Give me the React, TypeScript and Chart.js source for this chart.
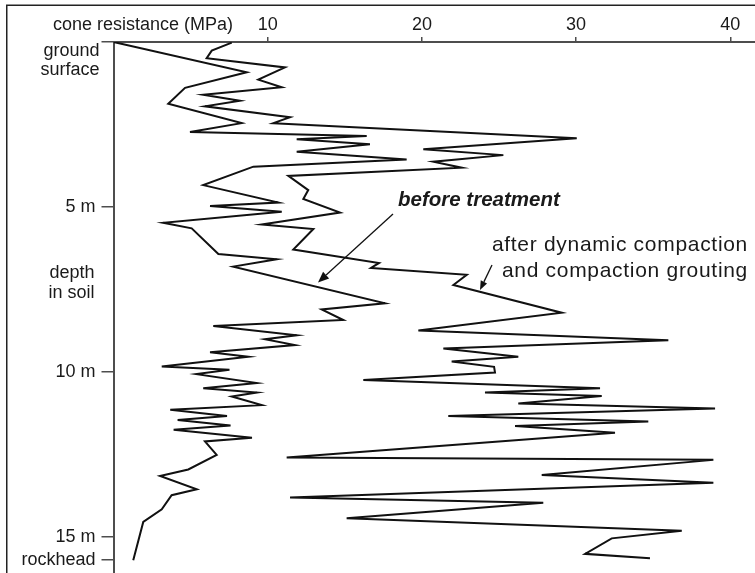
import React, { useEffect, useRef } from 'react';
import { Chart, registerables } from 'chart.js';

Chart.register(...registerables);

// cone resistance axis (MPa), top
const xTickValues = [10, 20, 30, 40];
// depth axis (m), left, downward
const depthTickValues = [0, 5, 10, 15, 15.7];
const depthTickLabels = ['', '5 m', '10 m', '15 m', 'rockhead'];

// before treatment
const beforeMPa = [
  0, 8.64, 4.64, 3.55, 8.31, 4.96, 16.42, 11.88, 16.63, 11.88,
  19.01, 9.07, 5.82, 10.69, 6.26, 10.91, 3.23, 5.07, 6.8, 10.58,
  7.77, 17.61, 13.5, 14.9, 6.47, 11.88, 9.82, 11.77, 6.26, 8.74,
  3.13, 7.52, 5.38, 9.29, 5.82, 9.29, 7.67, 9.61, 3.68, 7.36,
  4.16, 7.59, 3.9, 8.98, 5.93, 6.69, 4.85, 3.02, 5.4, 3.77,
  3.13, 1.93, 1.28,
];
const beforeDepth = [
  0, 0.92, 1.39, 1.87, 2.46, 2.73, 2.85, 2.95, 3.1, 3.33,
  3.56, 3.78, 4.34, 4.87, 4.97, 5.15, 5.48, 5.65, 6.43, 6.59,
  6.81, 7.92, 8.11, 8.43, 8.61, 8.89, 9.01, 9.19, 9.41, 9.54,
  9.84, 9.94, 10.07, 10.34, 10.5, 10.63, 10.75, 11.01, 11.15, 11.34,
  11.46, 11.63, 11.76, 12.0, 12.11, 12.52, 12.96, 13.16, 13.56, 13.74,
  14.17, 14.55, 15.71,
];

// after dynamic compaction and compaction grouting
const afterMPa = [
  7.67, 6.37, 6.04, 11.12, 9.39, 10.91, 5.82, 8.2, 5.93, 11.45,
  10.36, 30.04, 20.09, 25.28, 20.74, 22.58, 11.34, 12.63, 12.31, 14.69,
  9.61, 12.96, 11.66, 17.22, 16.7, 22.91, 22.04, 29.07, 19.77, 35.98,
  21.39, 26.25, 21.93, 24.68, 24.74, 16.2, 31.55, 24.09, 31.66, 26.25,
  39.01, 21.71, 34.68, 26.04, 32.52, 11.23, 38.9, 27.77, 38.9, 11.45,
  27.87, 15.12, 36.85, 32.31, 30.58, 34.79,
];
const afterDepth = [
  0.02, 0.26, 0.49, 0.77, 1.14, 1.37, 1.6, 1.78, 1.95, 2.28,
  2.46, 2.92, 3.25, 3.43, 3.63, 3.81, 4.06, 4.49, 4.76, 5.17,
  5.53, 5.67, 6.29, 6.7, 6.85, 7.06, 7.37, 8.21, 8.75, 9.04,
  9.29, 9.54, 9.69, 9.85, 10.02, 10.25, 10.5, 10.63, 10.73, 10.96,
  11.11, 11.34, 11.51, 11.64, 11.85, 12.6, 12.67, 13.13, 13.36, 13.81,
  13.97, 14.44, 14.82, 15.05, 15.52, 15.65,
];

const FONT = '"Liberation Sans", Arial, Helvetica, sans-serif';
const TEXT = '#1a1a1a';
const AXIS = '#4d4d4d';

function arrow(ctx: CanvasRenderingContext2D, x1: number, y1: number, x2: number, y2: number, len: number, half: number) {
  const a = Math.atan2(y2 - y1, x2 - x1);
  const bx = x2 - len * Math.cos(a);
  const by = y2 - len * Math.sin(a);
  ctx.beginPath();
  ctx.moveTo(x1, y1);
  ctx.lineTo(bx, by);
  ctx.stroke();
  ctx.beginPath();
  ctx.moveTo(x2, y2);
  ctx.lineTo(bx + half * Math.sin(a), by - half * Math.cos(a));
  ctx.lineTo(bx - half * Math.sin(a), by + half * Math.cos(a));
  ctx.closePath();
  ctx.fill();
}

const annotations = {
  id: 'annotations',
  afterDraw(chart: any) {
    const ctx: CanvasRenderingContext2D = chart.ctx;
    ctx.save();
    // frame (top and left edge of the figure)
    ctx.strokeStyle = '#222';
    ctx.lineWidth = 1.5;
    ctx.beginPath();
    ctx.moveTo(6.75, chart.height);
    ctx.lineTo(6.75, 5.25);
    ctx.lineTo(chart.width, 5.25);
    ctx.stroke();

    ctx.fillStyle = TEXT;
    ctx.font = `18px ${FONT}`;
    ctx.textAlign = 'right';
    ctx.textBaseline = 'alphabetic';
    ctx.fillText('cone resistance (MPa)', 233, 30);
    ctx.fillText('ground', 99.5, 55.5);
    ctx.fillText('surface', 99.5, 74.5);
    ctx.fillText('depth', 94.5, 277.5);
    ctx.fillText('in soil', 94.5, 298);

    ctx.textAlign = 'left';
    ctx.font = `italic bold 20.5px ${FONT}`;
    ctx.fillText('before treatment', 398, 206);

    ctx.textAlign = 'right';
    ctx.font = `21px ${FONT}`;
    (ctx as any).letterSpacing = '0.7px';
    ctx.fillText('after dynamic compaction', 748, 251);
    ctx.fillText('and compaction grouting', 748, 276.5);
    (ctx as any).letterSpacing = '0px';

    ctx.strokeStyle = '#111';
    ctx.fillStyle = '#111';
    ctx.lineWidth = 1.3;
    arrow(ctx, 393, 214, 318, 282.5, 11, 4.5);
    arrow(ctx, 492, 265, 480, 290, 9, 3.5);
    ctx.restore();
  },
};

export default function App() {
  const ref = useRef<HTMLCanvasElement | null>(null);
  useEffect(() => {
    if (!ref.current) return;
    const chart = new Chart(ref.current, {
      type: 'scatter',
      data: {
        datasets: [
          {
            label: 'before treatment',
            data: beforeMPa.map((v, i) => ({ x: v, y: beforeDepth[i] })),
            showLine: true,
            borderColor: '#111',
            borderWidth: 2,
            pointRadius: 0,
            tension: 0,
          },
          {
            label: 'after dynamic compaction and compaction grouting',
            data: afterMPa.map((v, i) => ({ x: v, y: afterDepth[i] })),
            showLine: true,
            borderColor: '#111',
            borderWidth: 2,
            pointRadius: 0,
            tension: 0,
          },
        ],
      },
      options: {
        animation: false,
        responsive: false,
        maintainAspectRatio: false,
        events: [],
        layout: { autoPadding: false, padding: 0 },
        plugins: { legend: { display: false }, tooltip: { enabled: false } },
        scales: {
          x: {
            type: 'linear',
            position: 'top',
            min: 0,
            max: 41.6,
            afterBuildTicks: (s: any) => {
              s.ticks = xTickValues.map((v) => ({ value: v }));
            },
            afterFit: (s: any) => {
              s.height = 42;
              s.paddingLeft = 0;
              s.paddingRight = 0;
              s.paddingTop = 0;
              s.paddingBottom = 0;
            },
            border: { display: true, color: AXIS, width: 2 },
            grid: { drawOnChartArea: false, drawTicks: true, tickLength: 5, color: AXIS, lineWidth: 1.5 },
            ticks: { color: TEXT, font: { family: FONT, size: 18 }, padding: 1, maxRotation: 0 },
          },
          y: {
            type: 'linear',
            position: 'left',
            reverse: true,
            min: 0,
            max: 16.1,
            afterBuildTicks: (s: any) => {
              s.ticks = depthTickValues.map((v) => ({ value: v }));
            },
            afterFit: (s: any) => {
              s.width = 113.5;
              s.paddingLeft = 0;
              s.paddingRight = 0;
              s.paddingTop = 0;
              s.paddingBottom = 0;
            },
            border: { display: true, color: AXIS, width: 2 },
            grid: { drawOnChartArea: false, drawTicks: true, tickLength: 12, color: AXIS, lineWidth: 1.5 },
            ticks: {
              color: TEXT,
              font: { family: FONT, size: 18 },
              padding: 6,
              callback: (_v: any, i: number) => depthTickLabels[i],
            },
          },
        },
      },
      plugins: [annotations],
    });
    return () => chart.destroy();
  }, []);
  return (
    <div style={{ position: 'fixed', left: 0, top: 0, width: 755, height: 573, background: '#fff' }}>
      <canvas ref={ref} width={755} height={573} />
    </div>
  );
}
